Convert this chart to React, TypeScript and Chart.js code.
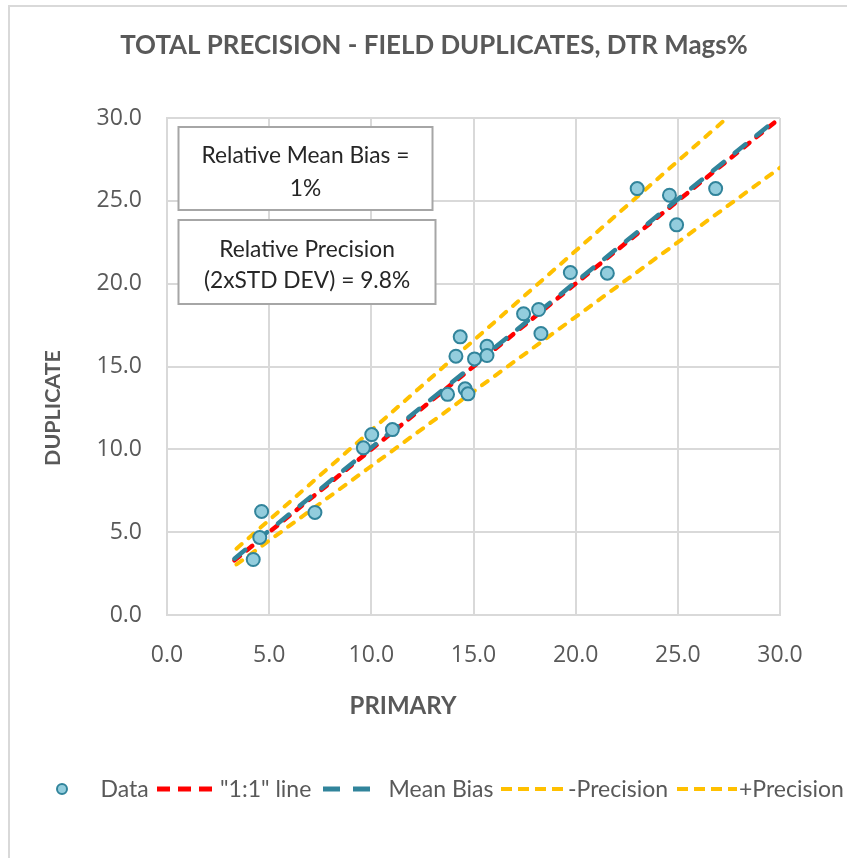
import React, { useEffect, useRef } from "react";
import { Chart, registerables } from "chart.js";

Chart.register(...registerables);

// ---------- data ----------
const TITLE = "TOTAL PRECISION - FIELD DUPLICATES, DTR Mags%";
const X_TITLE = "PRIMARY";
const Y_TITLE = "DUPLICATE";

const primary = [4.22, 4.54, 4.63, 7.24, 9.61, 10.02, 11.03, 13.73, 14.14, 14.35, 14.59, 14.73, 15.05, 15.66, 15.66, 17.45, 18.3, 18.19, 19.74, 21.55, 23.01, 24.59, 24.94, 26.85];
const duplicate = [3.35, 4.68, 6.25, 6.19, 10.09, 10.89, 11.19, 13.32, 15.62, 16.79, 13.65, 13.35, 15.46, 16.22, 15.66, 18.18, 16.99, 18.44, 20.67, 20.63, 25.74, 25.34, 23.55, 25.74];

const oneToOneX = [3.3, 30];
const oneToOneY = [3.3, 30];
const meanBiasX = [3.3, 29.5];
const meanBiasY = [3.4, 29.6];
const minusPrecX = [3.4, 30];
const minusPrecY = [3.05, 27.0];
const plusPrecX = [3.4, 27.4];
const plusPrecY = [4.0, 30.0];

const biasBox = ["Relative Mean Bias =", "1%"];
const precisionBox = ["Relative Precision", "(2xSTD DEV) = 9.8%"];
const legendLabels = ["Data", '"1:1" line', "Mean Bias", "-Precision", "+Precision"];

// ---------- styles ----------
const GRID = "#d9d9d9";
const TEXT = "#595959";
const RED = "#ff0000";
const TEAL = "#31849b";
const POINT_FILL = "#93cddd";
const YELLOW = "#ffc000";
const LATO = "Lato, 'Open Sans', sans-serif";
const OPEN = "'Open Sans', sans-serif";

const pts = (xs: number[], ys: number[]) => xs.map((x, i) => ({ x, y: ys[i] }));

function fitSize(ctx: CanvasRenderingContext2D, text: string, weight: string, family: string, width: number) {
  ctx.font = `${weight} 100px ${family}`;
  const w = ctx.measureText(text).width;
  return (100 * width) / w;
}

function capText(
  ctx: CanvasRenderingContext2D,
  text: string,
  x: number,
  yc: number,
  size: number,
  weight: string,
  family: string,
  color: string,
  align: CanvasTextAlign
) {
  ctx.font = `${weight} ${size}px ${family}`;
  ctx.fillStyle = color;
  ctx.textAlign = align;
  ctx.textBaseline = "alphabetic";
  ctx.fillText(text, x, yc + 0.36 * size);
}

function dashLine(ctx: CanvasRenderingContext2D, x1: number, x2: number, y: number, color: string, w: number, dash: number[], cap: CanvasLineCap) {
  ctx.save();
  ctx.strokeStyle = color;
  ctx.lineWidth = w;
  ctx.setLineDash(dash);
  ctx.lineCap = cap;
  ctx.beginPath();
  ctx.moveTo(x1, y);
  ctx.lineTo(x2, y);
  ctx.stroke();
  ctx.restore();
}

const decorPlugin = {
  id: "decor",
  afterDatasetsDraw(chart: any) {
    const ctx: CanvasRenderingContext2D = chart.ctx;
    ctx.save();
    const boxes = [
      { lines: biasBox, x: 178.5, y: 127, w: 254, h: 83, ys: [155, 187.5] },
      { lines: precisionBox, x: 178.5, y: 220, w: 257, h: 84, ys: [248.5, 279.5] },
    ];
    const bsize = fitSize(ctx, biasBox[0], "400", LATO, 208);
    for (const b of boxes) {
      ctx.fillStyle = "#ffffff";
      ctx.fillRect(b.x, b.y, b.w, b.h);
      ctx.strokeStyle = "#a6a6a6";
      ctx.lineWidth = 2;
      ctx.strokeRect(b.x, b.y, b.w, b.h);
      b.lines.forEach((t, i) => capText(ctx, t, b.x + b.w / 2, b.ys[i], bsize, "400", LATO, "#262626", "center"));
    }
    ctx.restore();
  },
  afterDraw(chart: any) {
    const ctx: CanvasRenderingContext2D = chart.ctx;
    ctx.save();
    ctx.strokeStyle = GRID;
    ctx.lineWidth = 2;
    ctx.beginPath();
    ctx.moveTo(9, 858);
    ctx.lineTo(9, 6);
    ctx.lineTo(847, 6);
    ctx.stroke();

    const tsize = fitSize(ctx, TITLE, "700", LATO, 628);
    capText(ctx, TITLE, 434, 44.5, tsize, "700", LATO, TEXT, "center");

    const xsize = fitSize(ctx, X_TITLE, "700", LATO, 107);
    capText(ctx, X_TITLE, 403, 705, xsize, "700", LATO, TEXT, "center");
    const ysize = fitSize(ctx, Y_TITLE, "700", LATO, 116);
    ctx.save();
    ctx.translate(52.5, 408);
    ctx.rotate(-Math.PI / 2);
    capText(ctx, Y_TITLE, 0, 0, ysize, "700", LATO, TEXT, "center");
    ctx.restore();

    const ly = 789;
    const lsize = fitSize(ctx, legendLabels[2], "400", LATO, 105);
    ctx.beginPath();
    ctx.arc(62, ly, 5, 0, Math.PI * 2);
    ctx.fillStyle = POINT_FILL;
    ctx.fill();
    ctx.strokeStyle = TEAL;
    ctx.lineWidth = 2;
    ctx.stroke();
    capText(ctx, legendLabels[0], 100.5, ly, lsize, "400", LATO, TEXT, "left");
    dashLine(ctx, 157, 213, ly, RED, 5, [13, 8], "butt");
    capText(ctx, legendLabels[1], 220, ly, lsize, "400", LATO, TEXT, "left");
    dashLine(ctx, 323, 371, ly, TEAL, 5, [17, 13], "butt");
    capText(ctx, legendLabels[2], 388.6, ly, lsize, "400", LATO, TEXT, "left");
    dashLine(ctx, 501, 565, ly, YELLOW, 4, [11, 6], "butt");
    capText(ctx, legendLabels[3], 568, ly, lsize, "400", LATO, TEXT, "left");
    dashLine(ctx, 677, 737, ly, YELLOW, 4, [11, 6], "butt");
    capText(ctx, legendLabels[4], 739, ly, lsize, "400", LATO, TEXT, "left");
    ctx.restore();
  },
};

export default function App() {
  const ref = useRef<HTMLCanvasElement | null>(null);

  useEffect(() => {
    if (!ref.current) return;
    const chart = new Chart(ref.current, {
      type: "scatter",
      data: {
        datasets: [
          {
            label: legendLabels[0],
            data: pts(primary, duplicate),
            showLine: false,
            pointRadius: 6.5,
            pointBorderWidth: 2,
            pointBackgroundColor: POINT_FILL,
            pointBorderColor: TEAL,
            order: 0,
          },
          {
            label: legendLabels[1],
            data: pts(oneToOneX, oneToOneY),
            showLine: true,
            borderColor: RED,
            borderWidth: 4.5,
            borderDash: [7, 9],
            borderCapStyle: "round",
            pointRadius: 0,
            order: 2,
          },
          {
            label: legendLabels[2],
            data: pts(meanBiasX, meanBiasY),
            showLine: true,
            borderColor: TEAL,
            borderWidth: 4.5,
            borderDash: [14, 14],
            borderCapStyle: "round",
            pointRadius: 0,
            order: 1,
          },
          {
            label: legendLabels[3],
            data: pts(minusPrecX, minusPrecY),
            showLine: true,
            borderColor: YELLOW,
            borderWidth: 4,
            borderDash: [7, 9],
            borderCapStyle: "round",
            pointRadius: 0,
            order: 3,
          },
          {
            label: legendLabels[4],
            data: pts(plusPrecX, plusPrecY),
            showLine: true,
            borderColor: YELLOW,
            borderWidth: 4,
            borderDash: [7, 9],
            borderCapStyle: "round",
            pointRadius: 0,
            order: 4,
          },
        ],
      },
      options: {
        animation: false,
        responsive: false,
        devicePixelRatio: 1,
        layout: { padding: { top: 118, right: 67, left: 0, bottom: 0 } },
        plugins: { legend: { display: false }, title: { display: false }, tooltip: { enabled: false } },
        scales: {
          x: {
            type: "linear",
            min: 0,
            max: 30,
            afterFit: (s: any) => {
              s.height = 243;
            },
            ticks: {
              stepSize: 5,
              color: TEXT,
              font: { family: OPEN, size: 23 },
              padding: 27,
              callback: (v: any) => Number(v).toFixed(1),
            },
            grid: { color: GRID, lineWidth: 2, drawTicks: false },
            border: { color: GRID, width: 2 },
          },
          y: {
            type: "linear",
            min: 0,
            max: 30,
            afterFit: (s: any) => {
              s.width = 167;
            },
            ticks: {
              stepSize: 5,
              color: TEXT,
              font: { family: OPEN, size: 23 },
              padding: 25,
              callback: (v: any) => Number(v).toFixed(1),
            },
            grid: { color: GRID, lineWidth: 2, drawTicks: false },
            border: { color: GRID, width: 2 },
          },
        },
      },
      plugins: [decorPlugin],
    });
    return () => chart.destroy();
  }, []);

  return (
    <div style={{ position: "absolute", left: 0, top: 0, width: 847, height: 858, background: "#fff" }}>
      <canvas ref={ref} width={847} height={858} style={{ display: "block" }} />
    </div>
  );
}
